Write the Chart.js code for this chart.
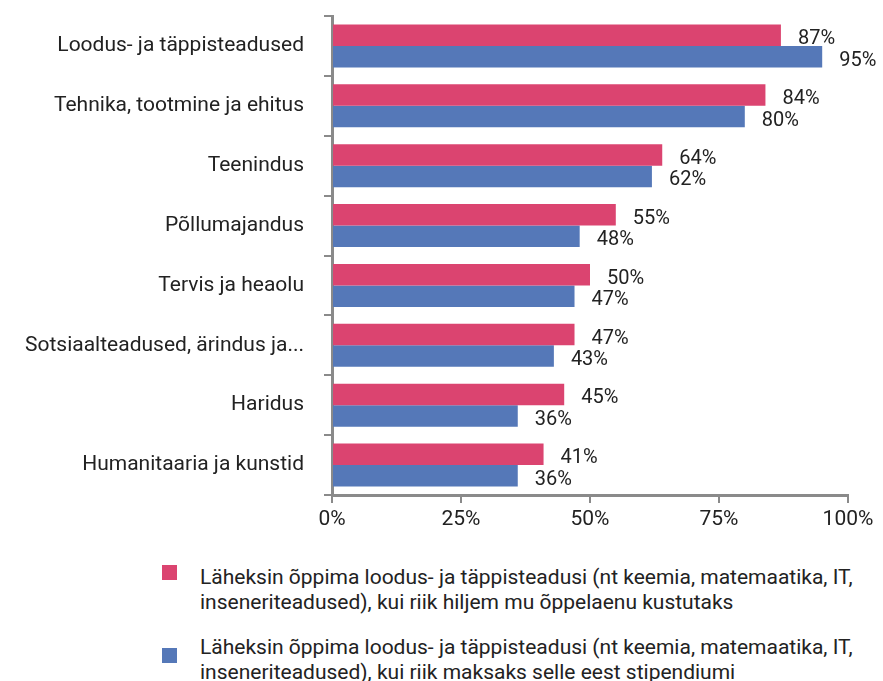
<!DOCTYPE html>
<html>
<head>
<meta charset="utf-8">
<script src="https://cdn.jsdelivr.net/npm/chart.js@4"></script>
<style>
  body { margin: 0; background: #fff; font-family: Roboto, sans-serif; }
  #wrap { position: relative; width: 883px; height: 681px; overflow: hidden; }
  #chart { position: absolute; left: 0; top: 0; }
  .sw { position: absolute; left: 162px; width: 15px; height: 15px; }
  .lt { position: absolute; left: 200px; font-size: 21px; color: #222; line-height: 25px; white-space: nowrap; }
</style>
</head>
<body>
<div id="wrap">
  <canvas id="chart" width="883" height="545"></canvas>
  <div id="legend"></div>
</div>
<script>
const categories = [
  'Loodus- ja täppisteadused',
  'Tehnika, tootmine ja ehitus',
  'Teenindus',
  'Põllumajandus',
  'Tervis ja heaolu',
  'Sotsiaalteadused, ärindus ja...',
  'Haridus',
  'Humanitaaria ja kunstid'
];
const loanValues = [87, 84, 64, 55, 50, 47, 45, 41];
const grantValues = [95, 80, 62, 48, 47, 43, 36, 36];
const xTicks = [0, 25, 50, 75, 100];
const seriesNames = [
  'Läheksin õppima loodus- ja täppisteadusi (nt keemia, matemaatika, IT,\ninseneriteadused), kui riik hiljem mu õppelaenu kustutaks',
  'Läheksin õppima loodus- ja täppisteadusi (nt keemia, matemaatika, IT,\ninseneriteadused), kui riik maksaks selle eest stipendiumi'
];
const colors = ['#DB4470', '#5578B8'];

// value labels to the right of each bar
const valueLabels = {
  id: 'valueLabels',
  afterDatasetsDraw(chart) {
    const ctx = chart.ctx;
    ctx.save();
    ctx.font = '20px Roboto';
    ctx.fillStyle = '#222';
    ctx.textAlign = 'left';
    ctx.textBaseline = 'middle';
    chart.data.datasets.forEach((ds, i) => {
      chart.getDatasetMeta(i).data.forEach((bar, j) => {
        ctx.fillText(ds.data[j] + '%', bar.x + 17, bar.y + 4);
      });
    });
    ctx.restore();
  }
};

new Chart(document.getElementById('chart'), {
  type: 'bar',
  data: {
    labels: categories,
    datasets: [
      { label: seriesNames[0], data: loanValues, backgroundColor: colors[0], barPercentage: 1, categoryPercentage: 0.72 },
      { label: seriesNames[1], data: grantValues, backgroundColor: colors[1], barPercentage: 1, categoryPercentage: 0.72 }
    ]
  },
  options: {
    indexAxis: 'y',
    responsive: false,
    animation: false,
    layout: { padding: { top: 16, right: 35, left: 0, bottom: 0 } },
    plugins: { legend: { display: false }, tooltip: { enabled: false } },
    scales: {
      x: {
        min: 0, max: 100,
        afterBuildTicks(s) { s.ticks = xTicks.map(v => ({ value: v })); },
        afterFit(s) { s.height = 50; },
        border: { color: '#8a8a8a', width: 3 },
        grid: { drawOnChartArea: false, color: '#8a8a8a', lineWidth: 2, tickLength: 8 },
        ticks: { color: '#222', font: { size: 21, family: 'Roboto' }, padding: 4, callback: v => v + '%' }
      },
      y: {
        afterFit(s) { s.width = 332; s.paddingTop = 0; s.paddingBottom = 0; },
        border: { color: '#8a8a8a', width: 3 },
        grid: { offset: true, drawOnChartArea: false, color: '#8a8a8a', lineWidth: 2, tickLength: 8 },
        ticks: { color: '#222', font: { size: 21, family: 'Roboto' }, padding: 20 }
      }
    }
  },
  plugins: [valueLabels]
});

// legend with wrapped text
const legend = document.getElementById('legend');
const swatchTops = [565, 648];
const textTops = [565, 635];
seriesNames.forEach((name, i) => {
  const lines = name.split('\n');
  legend.innerHTML += `<div class="sw" style="top:${swatchTops[i]}px;background:${colors[i]}"></div>` +
    `<div class="lt" style="top:${textTops[i]}px">${lines[0]}<br>${lines[1]}</div>`;
});
</script>
</body>
</html>
